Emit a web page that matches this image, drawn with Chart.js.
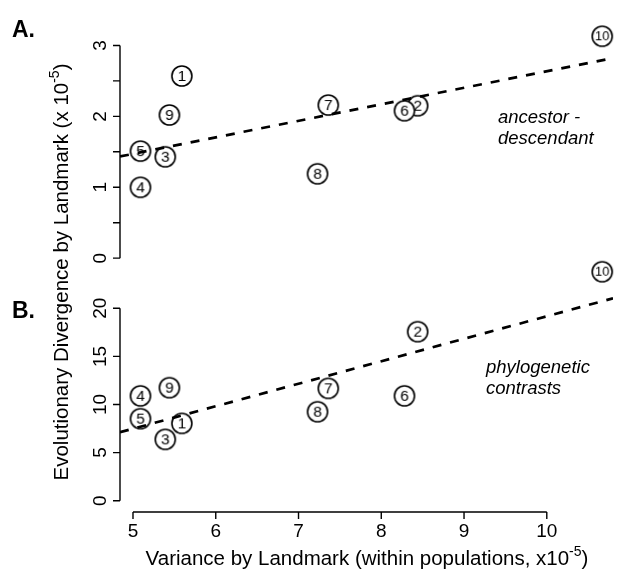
<!DOCTYPE html>
<html>
<head>
<meta charset="utf-8">
<script src="https://cdn.jsdelivr.net/npm/chart.js@4.4.1/dist/chart.umd.min.js"></script>
<style>
  body { margin: 0; background: #fff; }
  #wrap { position: relative; width: 624px; height: 570px; overflow: hidden; }
  #wrap canvas { position: absolute; left: 0; top: 0; }
</style>
</head>
<body>
<div id="wrap">
  <canvas id="graficoA" width="624" height="570"></canvas>
  <canvas id="graficoB" width="624" height="570"></canvas>
</div>
<script>
// Dados: landmarks 1-10
const landmarks = ['1', '2', '3', '4', '5', '6', '7', '8', '9', '10'];
const varianceWithin = [5.59, 8.44, 5.39, 5.09, 5.09, 8.28, 7.36, 7.23, 5.44, 10.67];
const divergenceAncDesc = [2.57, 2.15, 1.43, 1.00, 1.51, 2.08, 2.16, 1.19, 2.02, 3.13];
const divergenceContrasts = [8.04, 17.57, 6.38, 10.9, 8.53, 10.9, 11.68, 9.25, 11.75, 23.8];

// Retas ajustadas (intercepto, inclinação)
const fitAncDesc = [0.306, 0.233];
const fitContrasts = [-4.21, 2.338];

// Marcas dos eixos
const xTicks = [5, 6, 7, 8, 9, 10];
const yTicksA = [0, 0.5, 1, 1.5, 2, 2.5, 3];
const yLabelsA = [0, 1, 2, 3];
const yTicksB = [0, 5, 10, 15, 20];
const yLabelsB = [0, 5, 10, 15, 20];

const FONT = '"Liberation Sans", Arial, Helvetica, sans-serif';
const X_MIN = 4.843, X_MAX = 10.80;

// Círculo com número para cada landmark
function marcador(label) {
    const c = document.createElement('canvas');
    c.width = 24; c.height = 24;
    const g = c.getContext('2d');
    g.beginPath();
    g.arc(12, 12, 10, 0, 2 * Math.PI);
    g.fillStyle = '#fff';
    g.fill();
    g.lineWidth = 1.6;
    g.strokeStyle = '#000';
    g.stroke();
    g.fillStyle = '#000';
    g.font = (label.length > 1 ? '13px ' : '15.5px ') + FONT;
    g.textAlign = 'center';
    g.textBaseline = 'middle';
    g.fillText(label, 12, 12.8);
    return c;
}
const marcadores = landmarks.map(marcador);

function pontos(ys) {
    return varianceWithin.map((x, i) => ({ x: x, y: ys[i] }));
}
function reta(fit) {
    return [X_MIN, X_MAX].map(x => ({ x: x, y: fit[0] + fit[1] * x }));
}

// texto com expoente, centrado em x
function textoSup(ctx, partes, x, y, size) {
    const small = Math.round(size * 0.67);
    ctx.font = size + 'px ' + FONT;
    const w1 = ctx.measureText(partes[0]).width;
    const w3 = ctx.measureText(partes[2]).width;
    ctx.font = small + 'px ' + FONT;
    const w2 = ctx.measureText(partes[1]).width;
    let cx = x - (w1 + w2 + w3) / 2;
    ctx.textAlign = 'left';
    ctx.textBaseline = 'alphabetic';
    ctx.font = size + 'px ' + FONT;
    ctx.fillText(partes[0], cx, y); cx += w1;
    ctx.font = small + 'px ' + FONT;
    ctx.fillText(partes[1], cx, y - size * 0.42); cx += w2;
    ctx.font = size + 'px ' + FONT;
    ctx.fillText(partes[2], cx, y);
}

// eixos estilo R
function eixosR(cfg) {
    return {
        id: 'eixosR',
        afterDraw(chart) {
            const { ctx, chartArea, scales } = chart;
            const x0 = chartArea.left;
            ctx.save();
            ctx.strokeStyle = '#000';
            ctx.fillStyle = '#000';
            ctx.lineWidth = 1.4;

            // eixo y
            const yS = scales.y;
            ctx.beginPath();
            ctx.moveTo(x0, yS.getPixelForValue(cfg.yTicks[0]));
            ctx.lineTo(x0, yS.getPixelForValue(cfg.yTicks[cfg.yTicks.length - 1]));
            cfg.yTicks.forEach(v => {
                const p = yS.getPixelForValue(v);
                ctx.moveTo(x0, p);
                ctx.lineTo(x0 - 7, p);
            });
            ctx.stroke();
            ctx.font = '19px ' + FONT;
            cfg.yLabels.forEach(v => {
                const p = yS.getPixelForValue(v);
                ctx.save();
                ctx.translate(x0 - 14, p);
                ctx.rotate(-Math.PI / 2);
                ctx.textAlign = 'center';
                ctx.textBaseline = 'alphabetic';
                ctx.fillText(String(v), 0, 0);
                ctx.restore();
            });

            // eixo x
            if (cfg.showX) {
                const xS = scales.x;
                const yb = chartArea.bottom;
                ctx.beginPath();
                ctx.moveTo(xS.getPixelForValue(xTicks[0]), yb);
                ctx.lineTo(xS.getPixelForValue(xTicks[xTicks.length - 1]), yb);
                xTicks.forEach(v => {
                    const p = xS.getPixelForValue(v);
                    ctx.moveTo(p, yb);
                    ctx.lineTo(p, yb + 7);
                });
                ctx.stroke();
                ctx.font = '19px ' + FONT;
                ctx.textAlign = 'center';
                ctx.textBaseline = 'alphabetic';
                xTicks.forEach(v => {
                    ctx.fillText(String(v), xS.getPixelForValue(v), yb + 25);
                });
                textoSup(ctx, ['Variance by Landmark (within populations, x10', '-5', ')'], 367, 565, 20.5);
                ctx.save();
                ctx.translate(68, 272);
                ctx.rotate(-Math.PI / 2);
                textoSup(ctx, ['Evolutionary Divergence by Landmark (x 10', '-5', ')'], 0, 0, 20.5);
                ctx.restore();
            }

            // letra do painel
            ctx.font = 'bold 23px ' + FONT;
            ctx.textAlign = 'left';
            ctx.textBaseline = 'alphabetic';
            ctx.fillText(cfg.panel, 12, cfg.panelY);

            // anotação
            ctx.font = 'italic 18.5px ' + FONT;
            cfg.notes.forEach((t, i) => ctx.fillText(t, cfg.noteX, cfg.noteY + i * 21));
            ctx.restore();
        }
    };
}

function grafico(id, ys, fit, yMin, yMax, padding, cfg) {
    const ctx = document.getElementById(id).getContext('2d');
    return new Chart(ctx, {
        type: 'scatter',
        data: {
            datasets: [{
                data: pontos(ys),
                pointStyle: marcadores,
                pointRadius: 10,
                backgroundColor: '#fff',
                borderColor: '#000',
                clip: false,
                order: 1
            }, {
                type: 'line',
                data: reta(fit),
                borderColor: '#000',
                borderWidth: 2.7,
                borderDash: [9, 9],
                pointRadius: 0,
                tension: 0,
                fill: false,
                order: 0
            }]
        },
        options: {
            responsive: false,
            animation: false,
            events: [],
            layout: { padding: padding },
            plugins: { legend: { display: false }, tooltip: { enabled: false } },
            scales: {
                x: { type: 'linear', min: X_MIN, max: X_MAX, display: false },
                y: { type: 'linear', min: yMin, max: yMax, display: false }
            }
        },
        plugins: [eixosR(cfg)]
    });
}

// Painel A: ancestral - descendente
grafico('graficoA', divergenceAncDesc, fitAncDesc, -0.054, 3.486,
    { left: 120, right: 0, top: 0, bottom: 308 },
    { yTicks: yTicksA, yLabels: yLabelsA, showX: false, panel: 'A.', panelY: 37,
      notes: ['ancestor -', 'descendant'], noteX: 498, noteY: 123 });

// Painel B: contrastes filogenéticos
grafico('graficoB', divergenceContrasts, fitContrasts, -1.175, 24.81,
    { left: 120, right: 0, top: 262, bottom: 58 },
    { yTicks: yTicksB, yLabels: yLabelsB, showX: true, panel: 'B.', panelY: 318,
      notes: ['phylogenetic', 'contrasts'], noteX: 486, noteY: 373 });
</script>
</body>
</html>
